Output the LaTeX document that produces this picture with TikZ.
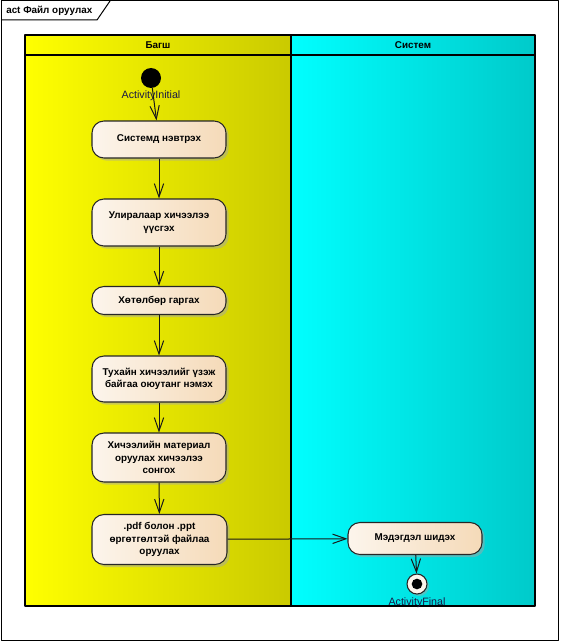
\documentclass[tikz,border=0pt]{standalone}
\usepackage{fontspec}
\setmainfont{Liberation Sans}
\usetikzlibrary{arrows.meta,shadows}
\definecolor{laneY}{RGB}{255,255,0}
\definecolor{laneYd}{RGB}{202,202,0}
\definecolor{laneC}{RGB}{0,255,255}
\definecolor{laneCd}{RGB}{0,202,202}
\definecolor{actL}{RGB}{252,245,236}
\definecolor{actR}{RGB}{245,218,184}
\definecolor{lblC}{RGB}{25,25,70}
\begin{document}
\begin{tikzpicture}[x=0.75pt, y=-0.75pt, font=\fontsize{7.4}{9.4}\selectfont\bfseries, line join=round, >={Straight Barb[length=10pt,width=7pt]},
	action/.style={draw=black!85, line width=0.8pt, rounded corners=9pt, left color=actL, right color=actR, minimum width=100.5pt, align=center, inner sep=2pt, drop shadow={shadow xshift=2pt, shadow yshift=-2pt, fill=black!35}},
	lbl/.style={font=\fontsize{8}{9}\selectfont, text=lblC, inner sep=0.5pt, label distance=1.5pt},
	flow/.style={->, line width=0.75pt, draw=black!90}]
	\useasboundingbox (0,0) rectangle (561,642);
	% Хүрээ
	\draw[line width=0.75pt] (1,1) rectangle (558,640);
	\draw[line width=0.75pt] (1,20) -- (97,20) -- (110,1);
	\node[anchor=west, inner sep=0pt] (title) at (6,11) {act Файл оруулах};
	% Эгнээнүүд
	\shade[left color=laneY, right color=laneYd] (25,35) rectangle (291,606);
	\shade[left color=laneC, right color=laneCd] (291,35) rectangle (535,606);
	\draw[line width=1.1pt] (25,35) rectangle (291,606);
	\draw[line width=1.1pt] (291,35) rectangle (535,606);
	\draw[line width=0.8pt] (25,55) -- (536,55);
	\node (hdrB) at (158,45) {Багш};
	\node (hdrS) at (413,45) {Систем};
	% Үйлдлүүд
	\node[circle, fill=black, minimum size=15pt, inner sep=0pt, label={[lbl]below:ActivityInitial}] (init) at (151,78) {};
	\node[action, minimum height=27.75pt] (a1) at (159,139.5) {Системд нэвтрэх};
	\node[action, minimum height=35.25pt] (a2) at (159,222.5) {Улиралаар хичээлээ\\үүсгэх};
	\node[action, minimum height=21pt] (a3) at (159,300.5) {Хөтөлбөр гаргах};
	\node[action, minimum height=34.5pt] (a4) at (159,379) {Тухайн хичээлийг үзэж\\байгаа оюутанг нэмэх};
	\node[action, minimum height=36.75pt] (a5) at (159,457.5) {Хичээлийн материал\\оруулах хичээлээ\\сонгох};
	\node[action, minimum height=37.5pt, minimum width=101.25pt] (a6) at (159.5,539.5) {.pdf болон .ppt\\өргөтгөлтэй файлаа\\оруулах};
	\node[action, minimum height=24pt] (m1) at (415,538.5) {Мэдэгдэл шидэх};
	\node[circle, draw=black!85, line width=0.8pt, fill=actL, minimum size=15pt, inner sep=0pt, drop shadow={shadow xshift=1.5pt, shadow yshift=-1.5pt, fill=black!35}, label={[lbl]below:ActivityFinal}] (fin) at (417,584) {};
	\fill (fin.center) circle (4pt);
	% Холбоосууд
	\draw[flow] (init) -- (a1);
	\draw[flow] (a1) -- (a2);
	\draw[flow] (a2) -- (a3);
	\draw[flow] (a3) -- (a4);
	\draw[flow] (a4) -- (a5);
	\draw[flow] (a5) -- (a6);
	\draw[flow] (a6) -- (m1);
	\draw[flow] (m1) -- (fin);
\end{tikzpicture}
\end{document}
